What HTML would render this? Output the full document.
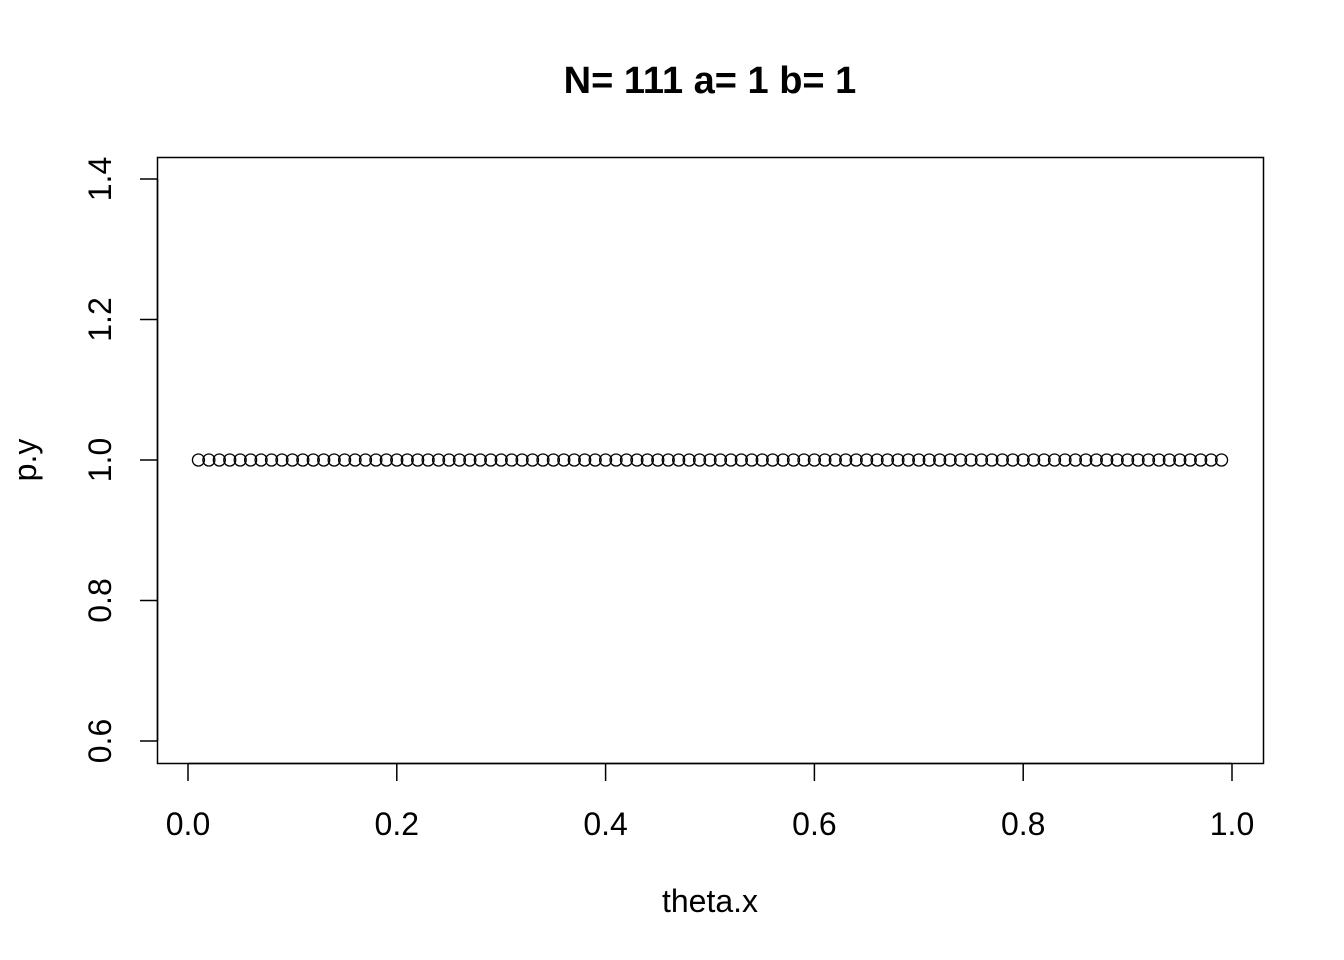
<!DOCTYPE html>
<html><head><meta charset="utf-8"><style>
html,body{margin:0;padding:0;background:#fff;}
svg{display:block;font-family:"Liberation Sans",Arial,sans-serif;}
</style></head><body>
<svg id="chart" width="1344" height="960" viewBox="0 0 1344 960">
<text x="710" y="93" text-anchor="middle" font-size="38" font-weight="bold">N= 111 a= 1 b= 1</text>
<rect x="157.5" y="157.5" width="1106" height="606" fill="none" stroke="#000" stroke-width="1.5"/>
<g id="xaxis"></g>
<g id="yaxis"></g>
<g id="points"></g>
<text x="710" y="912" text-anchor="middle" font-size="32">theta.x</text>
<text transform="translate(36,460) rotate(-90)" text-anchor="middle" font-size="32">p.y</text>
</svg>
<script>
const xTicks=[0.0,0.2,0.4,0.6,0.8,1.0];
const xTickLabels=["0.0","0.2","0.4","0.6","0.8","1.0"];
const yTicks=[0.6,0.8,1.0,1.2,1.4];
const yTickLabels=["0.6","0.8","1.0","1.2","1.4"];
const thetaX=[0.01,0.02,0.03,0.04,0.05,0.06,0.07,0.08,0.09,0.10,0.11,0.12,0.13,0.14,0.15,0.16,0.17,0.18,0.19,0.20,0.21,0.22,0.23,0.24,0.25,0.26,0.27,0.28,0.29,0.30,0.31,0.32,0.33,0.34,0.35,0.36,0.37,0.38,0.39,0.40,0.41,0.42,0.43,0.44,0.45,0.46,0.47,0.48,0.49,0.50,0.51,0.52,0.53,0.54,0.55,0.56,0.57,0.58,0.59,0.60,0.61,0.62,0.63,0.64,0.65,0.66,0.67,0.68,0.69,0.70,0.71,0.72,0.73,0.74,0.75,0.76,0.77,0.78,0.79,0.80,0.81,0.82,0.83,0.84,0.85,0.86,0.87,0.88,0.89,0.90,0.91,0.92,0.93,0.94,0.95,0.96,0.97,0.98,0.99];
const pY=[1,1,1,1,1,1,1,1,1,1,1,1,1,1,1,1,1,1,1,1,1,1,1,1,1,1,1,1,1,1,1,1,1,1,1,1,1,1,1,1,1,1,1,1,1,1,1,1,1,1,1,1,1,1,1,1,1,1,1,1,1,1,1,1,1,1,1,1,1,1,1,1,1,1,1,1,1,1,1,1,1,1,1,1,1,1,1,1,1,1,1,1,1,1,1,1,1,1,1];
const NS="http://www.w3.org/2000/svg";
const sx=v=>188+v*1044;
const sy=v=>460-(v-1)*702.5;
function mk(tag,attrs,parent){const e=document.createElementNS(NS,tag);for(const k in attrs)e.setAttribute(k,attrs[k]);parent.appendChild(e);return e;}
const xa=document.getElementById('xaxis'),ya=document.getElementById('yaxis'),pts=document.getElementById('points');
mk('line',{x1:sx(xTicks[0]),x2:sx(xTicks[xTicks.length-1]),y1:763.5,y2:763.5,stroke:'#000','stroke-width':1.5},xa);
xTicks.forEach((t,i)=>{
  const l=mk('line',{x1:sx(t),x2:sx(t),y1:763.5,y2:781,stroke:'#000','stroke-width':1.5},xa);
  
  
  const tx=mk('text',{x:sx(t),y:835,'text-anchor':'middle','font-size':32},xa);
  tx.textContent=xTickLabels[i];
  
  
});
mk('line',{x1:157.5,x2:157.5,y1:sy(yTicks[0]),y2:sy(yTicks[yTicks.length-1]),stroke:'#000','stroke-width':1.5},ya);
yTicks.forEach((t,i)=>{
  const l=mk('line',{x1:140,x2:157.5,y1:sy(t),y2:sy(t),stroke:'#000','stroke-width':1.5},ya);
  
  
  const tx=mk('text',{transform:`translate(111,${sy(t)}) rotate(-90)`,'text-anchor':'middle','font-size':32},ya);
  tx.textContent=yTickLabels[i];
  
  
});
thetaX.forEach((x,i)=>{
  const c=mk('circle',{cx:sx(x),cy:sy(pY[i]),r:6,fill:'none',stroke:'#000','stroke-width':1.3},pts);
  
  
});
</script>
</body></html>
